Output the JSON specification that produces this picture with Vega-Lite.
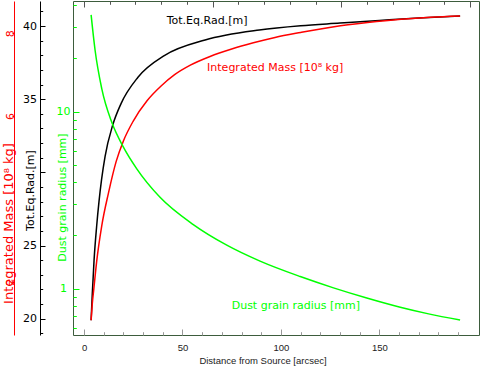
{
  "$schema": "https://vega.github.io/schema/vega-lite/v6.json",
  "width": 406,
  "height": 334,
  "autosize": {"type": "none"},
  "padding": {"left": 73, "top": 1, "right": 1, "bottom": 32},
  "background": "white",
  "config": {
    "view": {"stroke": "#3d5c3d", "strokeWidth": 1},
    "font": "DejaVu Sans",
    "axis": {"grid": false, "labelOverlap": false, "labelFlush": false, "titleFontWeight": "normal", "titlePadding": 0}
  },
  "datasets": {
    "black": [
      {"d": 3.6, "v": 19.9}, {"d": 4.2, "v": 21.7}, {"d": 5.1, "v": 24.0}, {"d": 6.4, "v": 26.3},
      {"d": 7.6, "v": 28.0}, {"d": 8.9, "v": 29.5}, {"d": 10.7, "v": 31.1}, {"d": 14.5, "v": 33.2},
      {"d": 18.8, "v": 34.7}, {"d": 27.4, "v": 36.5}, {"d": 41, "v": 38.0}, {"d": 61.5, "v": 39.05},
      {"d": 89, "v": 39.73}, {"d": 110, "v": 40.02}, {"d": 130, "v": 40.2}, {"d": 150, "v": 40.38},
      {"d": 170, "v": 40.55}, {"d": 191, "v": 40.68}
    ],
    "red": [
      {"d": 3.6, "v": 1.07}, {"d": 4.2, "v": 1.47}, {"d": 5.0, "v": 1.84}, {"d": 6.4, "v": 2.48},
      {"d": 9, "v": 3.35}, {"d": 12.4, "v": 4.14}, {"d": 16.3, "v": 4.9}, {"d": 20, "v": 5.4},
      {"d": 25, "v": 5.88}, {"d": 32, "v": 6.37}, {"d": 39, "v": 6.72}, {"d": 46, "v": 7.0},
      {"d": 54, "v": 7.23}, {"d": 64, "v": 7.44}, {"d": 75, "v": 7.62}, {"d": 86, "v": 7.77},
      {"d": 97, "v": 7.9}, {"d": 110, "v": 8.02}, {"d": 127, "v": 8.16}, {"d": 144, "v": 8.26},
      {"d": 161, "v": 8.34}, {"d": 176, "v": 8.39}, {"d": 191, "v": 8.42}
    ],
    "green": [
      {"d": 3.6, "v": 35.2}, {"d": 5.6, "v": 22.3}, {"d": 9, "v": 13.5}, {"d": 14.1, "v": 8.7},
      {"d": 20, "v": 6.3}, {"d": 26.8, "v": 4.75}, {"d": 38.6, "v": 3.28}, {"d": 55.5, "v": 2.3},
      {"d": 72.5, "v": 1.76}, {"d": 89.4, "v": 1.43}, {"d": 109.8, "v": 1.17}, {"d": 126.7, "v": 1.01},
      {"d": 143.6, "v": 0.885}, {"d": 160.6, "v": 0.785}, {"d": 175, "v": 0.72}, {"d": 191, "v": 0.665}
    ],
    "labelBlack": [{"d": 42.0, "v": 40.14, "t": "Tot.Eq.Rad.[m]"}],
    "labelRed": [{"d": 62.5, "v": 7.08, "t": "Integrated Mass [10⁸ kg]"}],
    "labelGreen": [{"d": 75.0, "v": 0.768, "t": "Dust grain radius [mm]"}]
  },
  "resolve": {
    "scale": {"x": "independent", "y": "independent"},
    "axis": {"x": "independent", "y": "independent"}
  },
  "layer": [
    {
      "data": {"name": "black"},
      "mark": {"type": "line", "color": "#000000", "strokeWidth": 1.5, "interpolate": "monotone"},
      "encoding": {
        "x": {
          "field": "d", "type": "quantitative",
          "scale": {"domain": [-5.6, 200.6], "nice": false, "zero": false},
          "axis": {
            "orient": "bottom", "values": [0, 50, 100, 150], "domain": false,
            "tickSize": -6, "tickColor": "#999999", "labelPadding": 21,
            "labelBaseline": "alphabetic", "labelFont": "Liberation Sans", "labelFontSize": 9.5, "labelColor": "#222222",
            "title": "Distance from Source [arcsec]", "titleFont": "Liberation Sans", "titleFontSize": 9.5,
            "titleColor": "#222222", "titleX": 189.5, "titleY": 28.5, "titleBaseline": "alphabetic", "titleAlign": "center"
          }
        },
        "y": {
          "field": "v", "type": "quantitative",
          "scale": {"domain": [18.886, 41.71], "nice": false, "zero": false},
          "axis": {
            "orient": "left", "offset": 33, "values": [20, 25, 30, 35, 40],
            "labelExpr": "datum.value == 30 ? '' : datum.label",
            "domainColor": "#000000", "tickColor": "#000000", "tickSize": -5, "labelPadding": 15.5,
            "labelAlign": "center", "labelBaseline": "middle", "labelColor": "#000000", "labelFontSize": 11,
            "title": "Tot.Eq.Rad.[m]", "titleColor": "#000000", "titleFontSize": 11,
            "titleX": -10, "titleY": 189, "titleAngle": 270, "titleBaseline": "middle", "titleAlign": "center"
          }
        }
      }
    },
    {
      "data": {"name": "labelBlack"},
      "mark": {"type": "text", "color": "#000000", "fontSize": 11, "align": "left", "baseline": "alphabetic"},
      "encoding": {
        "x": {
          "field": "d", "type": "quantitative",
          "scale": {"domain": [-5.6, 200.6], "nice": false, "zero": false},
          "axis": {
            "orient": "bottom", "values": [10, 20, 30, 40, 60, 70, 80, 90, 110, 120, 130, 140, 160, 170, 180, 190],
            "domain": false, "labels": false, "tickSize": -3.3, "tickColor": "#999999", "title": null
          }
        },
        "y": {
          "field": "v", "type": "quantitative",
          "scale": {"domain": [18.886, 41.71], "nice": false, "zero": false},
          "axis": {
            "orient": "left", "offset": 33,
            "values": [19, 21, 22, 23, 24, 26, 27, 28, 29, 31, 32, 33, 34, 36, 37, 38, 39, 41],
            "domain": false, "labels": false, "tickSize": -2.7, "tickColor": "#000000", "title": null
          }
        },
        "text": {"field": "t"}
      }
    },
    {
      "data": {"name": "red"},
      "mark": {"type": "line", "color": "#ff0000", "strokeWidth": 1.5, "interpolate": "monotone"},
      "encoding": {
        "x": {
          "field": "d", "type": "quantitative",
          "scale": {"domain": [-5.6, 200.6], "nice": false, "zero": false},
          "axis": {
            "orient": "top", "values": [0, 65.36, 130.72, 196.08], "domain": false, "labels": false,
            "tickSize": -6, "tickColor": "#555555", "title": null
          }
        },
        "y": {
          "field": "v", "type": "quantitative",
          "scale": {"domain": [0.713, 8.78], "nice": false, "zero": false},
          "axis": {
            "orient": "left", "offset": 59, "values": [2, 6, 8],
            "domainColor": "#ff0000", "tickColor": "#ff0000", "tickSize": 2, "labelPadding": 1.6,
            "labelAngle": -90, "labelAlign": "center", "labelBaseline": "middle", "labelColor": "#ff0000", "labelFontSize": 11,
            "title": "Integrated Mass [10⁸ kg]", "titleColor": "#ff0000", "titleFontSize": 13,
            "titleX": -6, "titleY": 222, "titleAngle": 270, "titleBaseline": "middle", "titleAlign": "center"
          }
        }
      }
    },
    {
      "data": {"name": "labelRed"},
      "mark": {"type": "text", "color": "#ff0000", "fontSize": 11, "align": "left", "baseline": "alphabetic"},
      "encoding": {
        "x": {
          "field": "d", "type": "quantitative",
          "scale": {"domain": [-5.6, 200.6], "nice": false, "zero": false},
          "axis": {
            "orient": "top",
            "values": [13.07, 26.14, 39.22, 52.29, 78.43, 91.5, 104.58, 117.65, 143.79, 156.86, 169.94, 183.01],
            "domain": false, "labels": false, "tickSize": -3.3, "tickColor": "#555555", "title": null
          }
        },
        "y": {
          "field": "v", "type": "quantitative",
          "scale": {"domain": [0.713, 8.78], "nice": false, "zero": false},
          "axis": null
        },
        "text": {"field": "t"}
      }
    },
    {
      "data": {"name": "green"},
      "mark": {"type": "line", "color": "#00ff00", "strokeWidth": 1.5, "interpolate": "monotone"},
      "encoding": {
        "x": {
          "field": "d", "type": "quantitative",
          "scale": {"domain": [-5.6, 200.6], "nice": false, "zero": false},
          "axis": null
        },
        "y": {
          "field": "v", "type": "quantitative",
          "scale": {"type": "log", "domain": [0.547, 42.2], "nice": false},
          "axis": {
            "orient": "left", "offset": 0, "values": [1, 10], "domain": false,
            "tickColor": "#00ff00", "tickSize": -6, "labelPadding": 16,
            "labelAlign": "center", "labelBaseline": "middle", "labelColor": "#00ff00", "labelFontSize": 11,
            "title": "Dust grain radius [mm]", "titleColor": "#00ff00", "titleFontSize": 11,
            "titleX": -10.5, "titleY": 196, "titleAngle": 270, "titleBaseline": "middle", "titleAlign": "center"
          }
        }
      }
    },
    {
      "data": {"name": "labelGreen"},
      "mark": {"type": "text", "color": "#00ff00", "fontSize": 11, "align": "left", "baseline": "alphabetic"},
      "encoding": {
        "x": {
          "field": "d", "type": "quantitative",
          "scale": {"domain": [-5.6, 200.6], "nice": false, "zero": false},
          "axis": null
        },
        "y": {
          "field": "v", "type": "quantitative",
          "scale": {"type": "log", "domain": [0.547, 42.2], "nice": false},
          "axis": {
            "orient": "left", "offset": 0,
            "values": [0.6, 0.7, 0.8, 0.9, 2, 3, 4, 5, 6, 7, 8, 9, 20, 30, 40],
            "domain": false, "labels": false, "tickSize": -3.3, "tickColor": "#00ff00", "title": null
          }
        },
        "text": {"field": "t"}
      }
    }
  ]
}
